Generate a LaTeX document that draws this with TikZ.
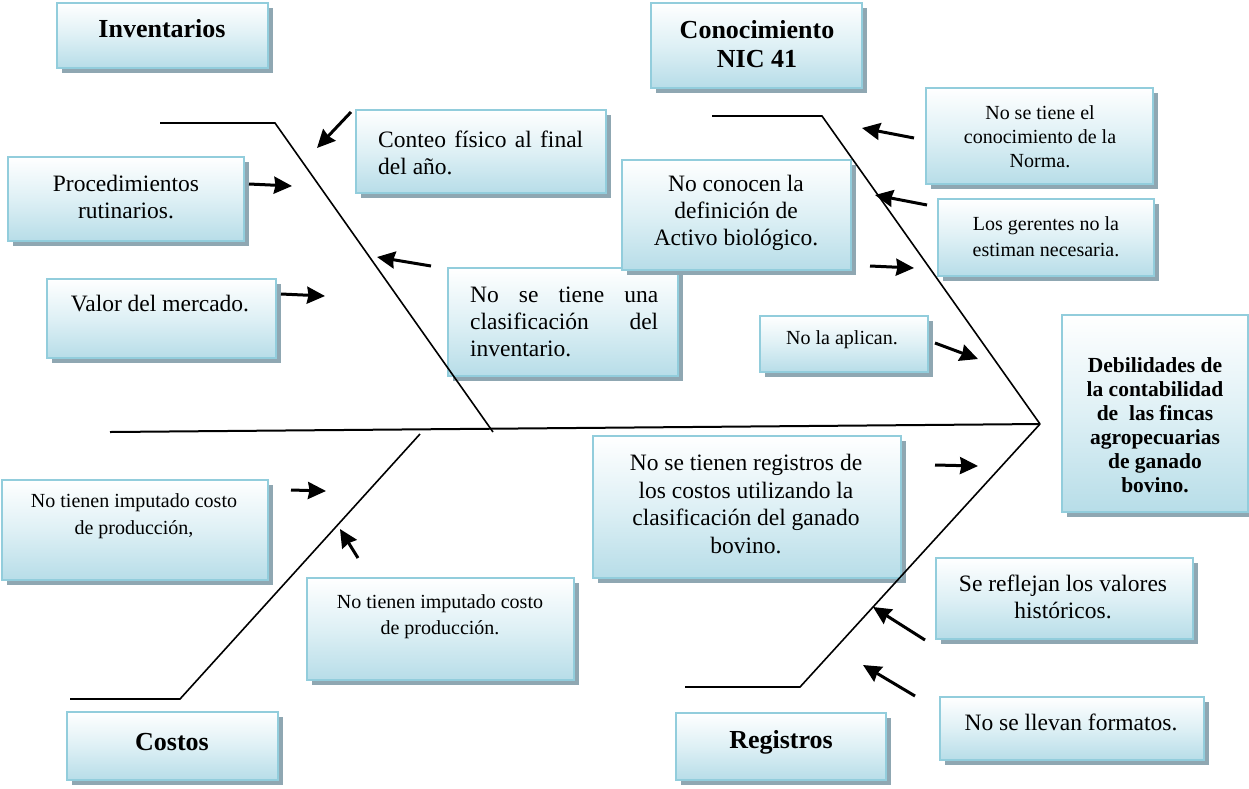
\documentclass[tikz,border=0pt]{standalone}
\usepackage{fontspec}
\setmainfont{Liberation Serif}
\usetikzlibrary{arrows.meta,shadows}

\definecolor{boxline}{RGB}{146,205,220}
\definecolor{boxfill}{RGB}{183,221,232}
\definecolor{boxmid}{RGB}{222,240,245}
\definecolor{shadowc}{RGB}{143,167,178}

\tikzset{
  fbox/.style={draw=boxline, line width=2pt, top color=white, bottom color=boxfill, middle color=boxmid,
    drop shadow={shadow xshift=5pt, shadow yshift=-5pt, fill=shadowc, opacity=1}, inner sep=0pt, outer sep=0pt},
  bigtxt/.style={font=\fontsize{23.5}{27}\selectfont, align=center, inner sep=0pt},
  smalltxt/.style={font=\fontsize{21}{25}\selectfont, align=center, inner sep=0pt},
  ttltxt/.style={font=\fontsize{26}{29}\selectfont\bfseries, align=center, inner sep=0pt},
  headtxt/.style={font=\fontsize{21.5}{24}\selectfont\bfseries, align=center, inner sep=0pt},
  bone/.style={line width=1.6pt, black},
  spine/.style={line width=2pt, black},
  arr/.style={line width=3pt, black, -{Triangle[length=18pt,width=17pt,inset=1.5pt]}},
}

\newcommand{\fbx}[5]{\node[fbox, minimum width={(#4)-(#2)}, minimum height={(#5)-(#3)}] (#1) at ({((#2)+(#4))/2},{((#3)+(#5))/2}) {};}

\begin{document}
\begin{tikzpicture}[x=1pt,y=-1pt]
\useasboundingbox (0,0) rectangle (1249,788);

% ---- boxes ----
\fbx{inv}{57}{3}{268}{68}
\fbx{con}{651}{3}{862}{88}
\fbx{cos}{67}{712}{278}{780}
\fbx{reg}{676}{713}{886}{780}
\fbx{proc}{8}{157}{244}{241}
\fbx{valor}{47}{279}{276}{358}
\fbx{conteo}{356}{110}{606}{193}
\fbx{clasif}{448}{268}{678}{376}
\fbx{defin}{622}{160}{851}{270}
\fbx{norma}{926}{88}{1153}{184}
\fbx{geren}{938}{199}{1154}{276}
\fbx{aplic}{760}{316}{928}{372}
\fbx{head}{1062}{315}{1248}{512}
\fbx{regcos}{593}{436}{901}{578}
\fbx{refl}{936}{558}{1193}{639}
\fbx{forma}{940}{697}{1204}{760}
\fbx{costa}{2}{480}{268}{580}
\fbx{costb}{307}{578}{574}{680}

% ---- texts ----
\node[ttltxt] (inv-t) at (162,29) {Inventarios};
\node[ttltxt] (con-t) at (757,44) {Conocimiento\\NIC 41};
\node[ttltxt] (cos-t) at (172,742) {Costos};
\node[ttltxt] (reg-t) at (781,742) {Registros};
\node[bigtxt] (proc-t) at (126,197) {Procedimientos\\rutinarios.};
\node[bigtxt] (valor-t) at (160,304) {Valor del mercado.};
\node[bigtxt, text width=205pt, align=justify, anchor=west] (conteo-t) at (378,153) {Conteo físico al final\linebreak del año.};
\node[bigtxt, text width=188pt, align=justify, anchor=west] (clasif-t) at (470,322) {No se tiene una\linebreak clasificación del\linebreak inventario.};
\node[bigtxt] (defin-t) at (736,213) {No conocen la\\definición de\\Activo biológico.};
\node[smalltxt, font=\fontsize{20}{24}\selectfont] (norma-t) at (1040,137) {No se tiene el\\conocimiento de la\\Norma.};
\node[smalltxt, font=\fontsize{20}{26}\selectfont] (geren-t) at (1046,237) {Los gerentes no la\\estiman necesaria.};
\node[smalltxt, font=\fontsize{20}{24}\selectfont] (aplic-t) at (842,340) {No la aplican.};
\node[headtxt] (head-t) at (1155,425) {Debilidades de\\la contabilidad\\de\ \ las fincas\\agropecuarias\\de ganado\\bovino.};
\node[bigtxt, font=\fontsize{23.5}{27.5}\selectfont] (regcos-t) at (746,504) {No se tienen registros de\\los costos utilizando la\\clasificación del ganado\\bovino.};
\node[bigtxt] (refl-t) at (1063,597) {Se reflejan los valores\\históricos.};
\node[bigtxt] (forma-t) at (1071,722) {No se llevan formatos.};
\node[smalltxt, font=\fontsize{20}{27}\selectfont] (costa-t) at (134,516) {No tienen imputado costo\\de producción,};
\node[smalltxt, font=\fontsize{20}{26}\selectfont] (costb-t) at (440,617) {No tienen imputado costo\\de producción.};

% ---- skeleton ----
\coordinate (tail) at (110,432);
\coordinate (mouth) at (1040,424);
\coordinate (ul0) at (160,123); \coordinate (ul1) at (275,123); \coordinate (ul2) at (493,432);
\coordinate (ur0) at (712,116); \coordinate (ur1) at (822,116);
\coordinate (ll0) at (70,699);  \coordinate (ll1) at (180,699); \coordinate (ll2) at (420,434);
\coordinate (lr0) at (685,687); \coordinate (lr1) at (800,687);

\draw[spine] (tail) -- (mouth);
\draw[bone] (ul0) -- (ul1) -- (ul2);
\draw[bone] (ur0) -- (ur1) -- (mouth);
\draw[bone] (ll0) -- (ll1) -- (ll2);
\draw[bone] (lr0) -- (lr1) -- (mouth);

% ---- arrows ----
\coordinate (a1s) at (249,184); \coordinate (a1e) at (292,186);
\coordinate (a2s) at (281,294); \coordinate (a2e) at (325,296);
\coordinate (a3s) at (351,112); \coordinate (a3e) at (317,148);
\coordinate (a4s) at (431,266); \coordinate (a4e) at (377,257);
\coordinate (a5s) at (870,266); \coordinate (a5e) at (914,268);
\coordinate (a6s) at (914,138); \coordinate (a6e) at (862,128);
\coordinate (a7s) at (927,205); \coordinate (a7e) at (875,195);
\coordinate (a8s) at (935,343); \coordinate (a8e) at (978,359);
\coordinate (a9s) at (935,465); \coordinate (a9e) at (978,466);
\coordinate (a10s) at (925,640); \coordinate (a10e) at (873,607);
\coordinate (a11s) at (915,696); \coordinate (a11e) at (863,665);
\coordinate (a12s) at (291,490); \coordinate (a12e) at (326,491);
\coordinate (a13s) at (358,558); \coordinate (a13e) at (340,529);

\foreach \i in {1,...,13}{\draw[arr] (a\i s) -- (a\i e);}
\end{tikzpicture}
\end{document}
